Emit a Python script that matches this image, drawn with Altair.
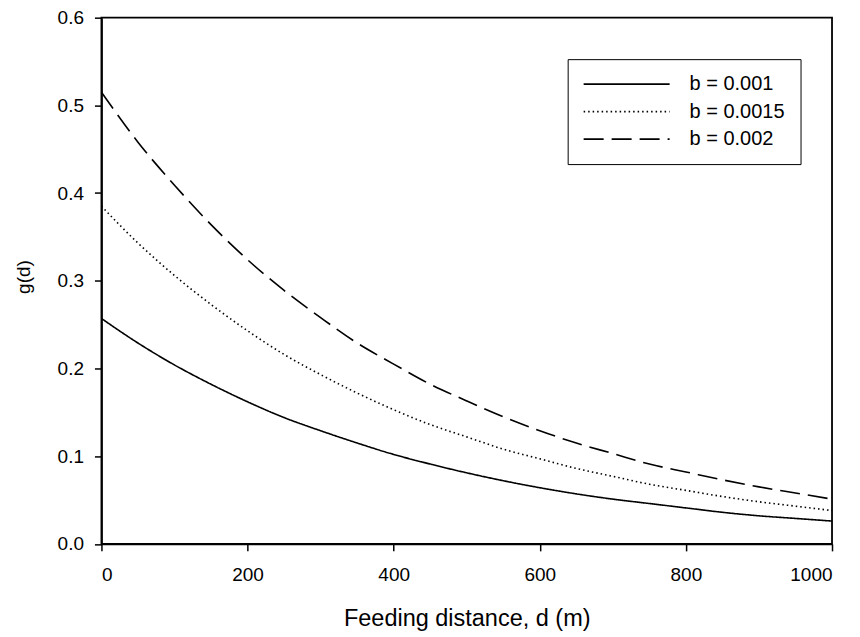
import altair as alt
import pandas as pd

d_values = [0, 50, 100, 150, 200, 250, 300, 350, 400, 450, 500,
            550, 600, 650, 700, 750, 800, 850, 900, 950, 1000]
g_b0010 = [0.257, 0.229, 0.204, 0.182, 0.162, 0.144, 0.129, 0.115, 0.102, 0.091, 0.081,
           0.072, 0.064, 0.057, 0.051, 0.046, 0.041, 0.036, 0.032, 0.029, 0.026]
g_b0015 = [0.385, 0.343, 0.306, 0.273, 0.243, 0.216, 0.193, 0.172, 0.153, 0.136, 0.122,
           0.108, 0.097, 0.086, 0.077, 0.068, 0.061, 0.054, 0.048, 0.043, 0.038]
g_b0020 = [0.515, 0.458, 0.409, 0.364, 0.324, 0.289, 0.258, 0.229, 0.205, 0.182, 0.163,
           0.145, 0.129, 0.115, 0.103, 0.091, 0.082, 0.073, 0.065, 0.058, 0.051]
series_names = ["b = 0.001", "b = 0.0015", "b = 0.002"]
x_ticks = [0, 200, 400, 600, 800, 1000]
y_ticks = [0.0, 0.1, 0.2, 0.3, 0.4, 0.5, 0.6]

rows = []
for name, vals in zip(series_names, [g_b0010, g_b0015, g_b0020]):
    for i, (d, g) in enumerate(zip(d_values, vals)):
        rows.append({"d": d, "g": g, "series": name, "order": i})
df = pd.DataFrame(rows)

FONT = "Liberation Sans"

chart = alt.Chart(df).mark_line(color="black", strokeWidth=1.6, interpolate="monotone").encode(
    x=alt.X("d:Q", scale=alt.Scale(domain=[0, 1000], nice=False),
            axis=alt.Axis(values=x_ticks, title="Feeding distance, d (m)", format="d",
                          labelPadding=15, titlePadding=22, titleFontSize=23.5)),
    y=alt.Y("g:Q", scale=alt.Scale(domain=[0, 0.6], nice=False),
            axis=alt.Axis(values=y_ticks, title="g(d)", format=".1f",
                          labelPadding=11, titlePadding=24, titleFontSize=19,
                          titleY=259)),
    strokeDash=alt.StrokeDash("series:N",
        scale=alt.Scale(domain=series_names, range=[[1, 0], [1.5, 3], [20, 8]]),
        legend=alt.Legend(title=None, orient="none", legendX=466.5, legendY=41.5,
                          symbolType="M-5,0H5", symbolSize=296, symbolStrokeWidth=1.6,
                          symbolStrokeColor="black", symbolFillColor="transparent",
                          symbolOffset=34,
                          labelFontSize=20, labelFont=FONT,
                          labelColor="black", labelOffset=53, rowPadding=7.5,
                          padding=15, strokeColor="black", fillColor="white",
                          labelLimit=300)),
    order="order:Q",
).properties(
    width=731, height=526.5,
    background="white",
    autosize=alt.AutoSizeParams(type="none"),
    padding={"left": 101.5, "top": 17.5, "right": 28, "bottom": 93},
).configure_view(
    stroke="black", strokeWidth=1.8
).configure_axis(
    domainColor="black", domainWidth=1.8, tickColor="black", tickWidth=1.5, tickSize=7,
    labelColor="black", labelFont=FONT, labelFontSize=19, titleFont=FONT,
    titleColor="black", titleFontWeight="normal", grid=False
)

chart.save("out.html", embed_options={"renderer": "svg", "actions": False})
